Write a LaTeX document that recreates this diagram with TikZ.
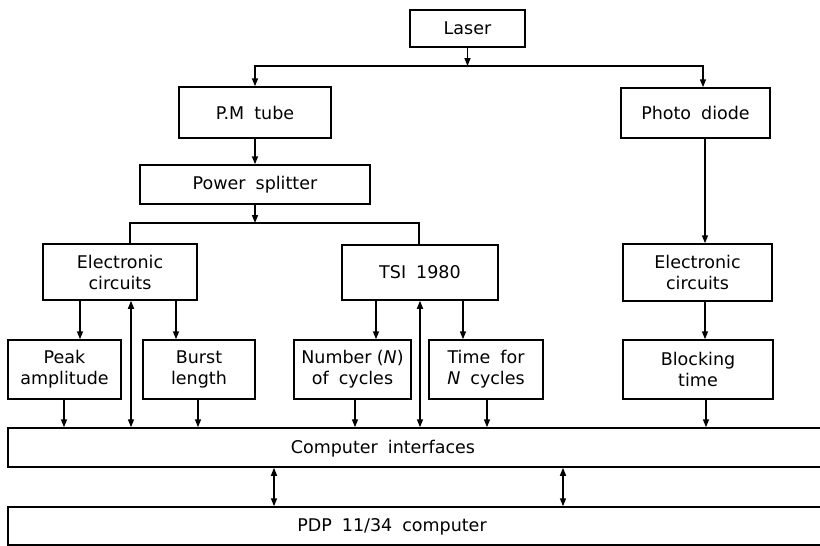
\documentclass[tikz,border=0pt]{standalone}
\usepackage{fontspec}
\setmainfont{DejaVu Sans}[WordSpace=1.8]
\usetikzlibrary{arrows.meta}
\begin{document}
\begin{tikzpicture}[x=1pt,y=-1pt,
  box/.style={draw, line width=1.5pt, inner sep=0pt, align=center,
    font=\fontsize{17.5}{21}\selectfont},
  lbl/.style={inner sep=0pt, font=\fontsize{17.5}{21}\selectfont},
  arr/.style={-{Triangle[length=8pt,width=6pt]}, line width=1.5pt},
  darr/.style={{Triangle[length=8pt,width=6pt]}-{Triangle[length=8pt,width=6pt]}, line width=1.5pt},
  ln/.style={line width=1.5pt}]
\useasboundingbox (0,0) rectangle (820,546);
% boxes
\node[box, minimum width=115pt, minimum height=37pt] (laser) at (467.5,28.5) {Laser};
\node[box, minimum width=152pt, minimum height=51pt] (pm) at (255,112.5) {P.M tube};
\node[box, minimum width=149pt, minimum height=50pt] (pd) at (695.5,113) {Photo diode};
\node[box, minimum width=230pt, minimum height=39pt] (ps) at (255,184.5) {Power splitter};
\node[box, minimum width=154pt, minimum height=56pt] (ec1) at (120,272) {Electronic\\circuits};
\node[box, minimum width=156pt, minimum height=55pt] (tsi) at (420,272.5) {TSI 1980};
\node[box, minimum width=149pt, minimum height=57pt] (ec2) at (697.5,272.5) {Electronic\\circuits};
\node[box, minimum width=113pt, minimum height=59pt] (peak) at (64.5,369.5) {Peak\\amplitude};
\node[box, minimum width=112pt, minimum height=59pt] (burst) at (199,369.5) {Burst\\length};
\node[box, minimum width=117pt, minimum height=59pt] (num) at (352.5,369.5) {Number\hspace{0.3em}(\textit{N})\\of cycles};
\node[box, minimum width=114pt, minimum height=59pt] (time) at (486,369.5) {Time for\\\textit{N} cycles};
\node[box, minimum width=150pt, minimum height=59pt] (block) at (698,369.5) {Blocking\\time};
\node[box, minimum width=822pt, minimum height=39pt] (ci) at (419,447.5) {};
\node[lbl] (citext) at (383,449) {Computer interfaces};
\node[box, minimum width=822pt, minimum height=38pt] (pdp) at (419,526) {};
\node[lbl] (pdptext) at (392,527) {PDP 11/34 computer};
% junctions
\coordinate (j1) at (467.5,66);
\coordinate (j2) at (255,223);
% connectors
\draw[arr] (laser.south) -- (j1);
\draw[arr] (j1) -| (pm.north);
\draw[arr] (j1) -| (703,0 |- pd.north);
\draw[arr] (pm.south) -- (ps.north);
\draw[arr] (ps.south) -- (j2);
\draw[ln] (130,0 |- ec1.north) |- (j2) -| (419,0 |- tsi.north);
\draw[arr] (705,0 |- pd.south) -- (705,0 |- ec2.north);
\draw[arr] (705,0 |- ec2.south) -- (705,0 |- block.north);
\draw[arr] (80,0 |- ec1.south) -- (80,0 |- peak.north);
\draw[arr] (176,0 |- ec1.south) -- (176,0 |- burst.north);
\draw[arr] (376,0 |- tsi.south) -- (376,0 |- num.north);
\draw[arr] (463,0 |- tsi.south) -- (463,0 |- time.north);
\draw[darr] (131,0 |- ci.north) -- (131,0 |- ec1.south);
\draw[darr] (420,0 |- ci.north) -- (420,0 |- tsi.south);
\draw[arr] (64,0 |- peak.south) -- (64,0 |- ci.north);
\draw[arr] (198,0 |- burst.south) -- (198,0 |- ci.north);
\draw[arr] (355,0 |- num.south) -- (355,0 |- ci.north);
\draw[arr] (487,0 |- time.south) -- (487,0 |- ci.north);
\draw[arr] (706,0 |- block.south) -- (706,0 |- ci.north);
\draw[darr] (274,0 |- ci.south) -- (274,0 |- pdp.north);
\draw[darr] (563,0 |- ci.south) -- (563,0 |- pdp.north);
\end{tikzpicture}
\end{document}
